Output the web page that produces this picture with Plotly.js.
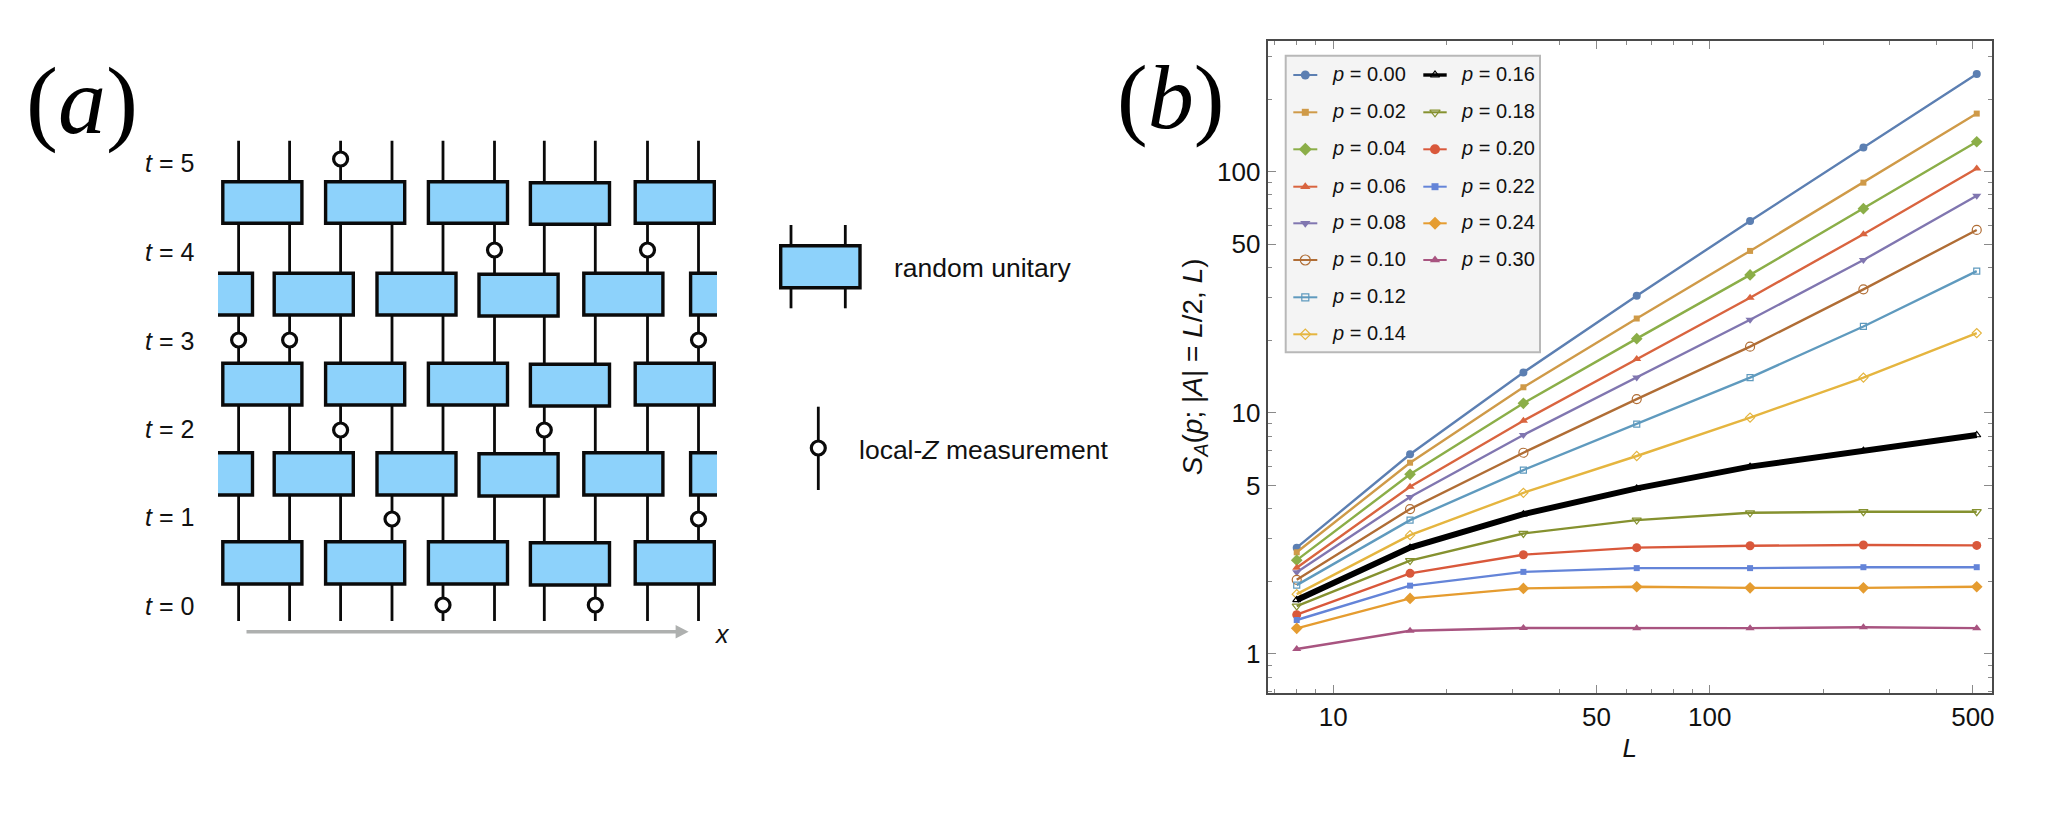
<!DOCTYPE html>
<html>
<head>
<meta charset="utf-8">
<script src="https://cdn.plot.ly/plotly-3.0.1.min.js"></script>
<style>html,body{margin:0;padding:0;background:#fff}#chart{width:2068px;height:814px}</style>
</head>
<body>
<div id="chart"></div>
<script>
// ---------- panel (b) data ----------
const systemSizes = [8, 16, 32, 64, 128, 256, 512];
const pLabels = ['0.00','0.02','0.04','0.06','0.08','0.10','0.12','0.14','0.16','0.18','0.20','0.22','0.24','0.30'];
const S_p000 = [2.76, 6.73, 14.7, 30.6, 62.4, 126, 254];
const S_p002 = [2.64, 6.21, 12.76, 24.6, 46.9, 90, 174];
const S_p004 = [2.45, 5.56, 10.95, 20.3, 37.3, 70.2, 133];
const S_p006 = [2.28, 4.94, 9.27, 16.7, 30, 55, 103];
const S_p008 = [2.18, 4.48, 8.09, 14, 24.3, 43, 79.4];
const S_p010 = [2.03, 3.99, 6.83, 11.4, 18.8, 32.5, 57.3];
const S_p012 = [1.93, 3.59, 5.79, 8.98, 14, 22.8, 38.7];
const S_p014 = [1.77, 3.11, 4.66, 6.62, 9.55, 14, 21.4];
const S_p016 = [1.675, 2.76, 3.8, 4.86, 5.98, 6.97, 8.09];
const S_p018 = [1.58, 2.44, 3.16, 3.59, 3.85, 3.89, 3.89];
const S_p020 = [1.455, 2.16, 2.58, 2.76, 2.81, 2.83, 2.82];
const S_p022 = [1.383, 1.92, 2.19, 2.27, 2.27, 2.29, 2.29];
const S_p024 = [1.278, 1.70, 1.87, 1.90, 1.88, 1.88, 1.90];
const S_p030 = [1.049, 1.249, 1.282, 1.28, 1.28, 1.29, 1.28];
const seriesValues = [S_p000,S_p002,S_p004,S_p006,S_p008,S_p010,S_p012,S_p014,S_p016,S_p018,S_p020,S_p022,S_p024,S_p030];
const seriesColors = ['#5C7FB2','#CF9A48','#8BAE48','#D9643F','#8076B0','#B06D35','#5F9ABE','#E5B53F','#000000','#85912F','#D9583B','#6484D8','#E59C30','#A85480'];
const seriesSymbols = ['circle','square','diamond','triangle-up','triangle-down','circle-open','square-open','diamond-open','triangle-up-open','triangle-down-open','circle','square','diamond','triangle-up'];
const markerSizes = [8,6,9,8,8,9,6,7,7,8,9,6,9,8];
const lineWidths = [2.4,2.4,2.4,2.4,2.4,2.4,2.4,2.4,6,2.4,2.4,2.4,2.4,2.4];
const xTickValues = [10,50,100,500];
const yTickValues = [1,5,10,50,100];
const xMinorTicks = [7,8,9,20,30,40,60,70,80,90,200,300,400];
const yMinorTicks = [0.7,0.8,0.9,2,3,4,6,7,8,9,20,30,40,60,70,80,90,200,300];

// ---------- legend layout of panel (b), in page pixels ----------
const legendBox = [1285.7,55.7,1540,352.3];
const legendRowsY = [75,112.3,149.3,186.7,223.3,260,297.3,334.3];
const legendColumnsX = [[1293.3,1317.3,1329.5],[1423.3,1446.7,1458.5]];

// ---------- panel (a) schematic, in page pixels ----------
const wireX = [238.6,289.6,340.6,392,443,494.5,544.3,595.3,647.5,698.5];
const wireSpanY = [140.7,621];
const fullRowsY = [[181.7,223.3],[363.3,405],[541.7,584]];
const fullRowColumns = [[222.8,301.9],[325.6,404.7],[428.4,507.5],[530.4,609.5],[635.2,714.3]];
const offsetRowsY = [[273.3,315],[452.7,495]];
const offsetRowColumns = [[274.2,353.3],[377,456],[479,558.1],[583.8,662.9]];
const edgeGateLeft = [218,252.5];
const edgeGateRight = [690.6,717];
const nudgedColumnShift = 1;
const measureX = [340.6,494.5,647.5,238.6,289.6,698.5,340.6,544.3,392,698.5,443,595.3];
const measureY = [159,250,250,340,340,340,430,430,519,519,605,605];
const timeLabels = ['t = 5','t = 4','t = 3','t = 2','t = 1','t = 0'];
const timeLabelY = [163,251.7,340.7,429,517,605.7];
const keyGate = {x:[780.7,860], y:[245.7,287.7], wires:[791,845.3], wireY:[225,308.3]};
const keyMeasure = {x:818.3, y:[406.7,490], mark:448};

const gateFill = '#8DD2FB', ink = '#0a0a0a', sans = '"Liberation Sans", Arial, sans-serif';
const shapes = [];
const P = {xref:'x2', yref:'y2', layer:'below'};
const wire = (x, y0, y1, w) => shapes.push({...P, type:'line', x0:x, x1:x, y0:y0, y1:y1, line:{color:ink, width:w||2.8}});
const gate = (x0, x1, y0, y1) => shapes.push({...P, type:'rect', x0, x1, y0, y1, fillcolor:gateFill, line:{color:ink, width:3.4}});

wireX.forEach(x => wire(x, wireSpanY[0], wireSpanY[1]));
fullRowsY.forEach(r => fullRowColumns.forEach((c,i) => {
  const d = i === 3 ? nudgedColumnShift : 0;
  gate(c[0], c[1], r[0]+d, r[1]+d);
}));
offsetRowsY.forEach(r => {
  offsetRowColumns.forEach((c,i) => {
    const d = i === 2 ? nudgedColumnShift : 0;
    gate(c[0], c[1], r[0]+d, r[1]+d);
  });
  shapes.push({...P, type:'path', path:`M${edgeGateLeft[0]},${r[0]} L${edgeGateLeft[1]},${r[0]} L${edgeGateLeft[1]},${r[1]} L${edgeGateLeft[0]},${r[1]}`, fillcolor:gateFill, line:{color:ink,width:3.4}});
  shapes.push({...P, type:'path', path:`M${edgeGateRight[1]},${r[0]} L${edgeGateRight[0]},${r[0]} L${edgeGateRight[0]},${r[1]} L${edgeGateRight[1]},${r[1]}`, fillcolor:gateFill, line:{color:ink,width:3.4}});
});
// key
keyGate.wires.forEach(x => wire(x, keyGate.wireY[0], keyGate.wireY[1]));
gate(keyGate.x[0], keyGate.x[1], keyGate.y[0], keyGate.y[1]);
wire(keyMeasure.x, keyMeasure.y[0], keyMeasure.y[1]);
// x arrow
shapes.push({...P, type:'line', x0:246.5, x1:678, y0:631.7, y1:631.7, line:{color:'#AEB0AF', width:3.6}});
shapes.push({...P, type:'path', path:'M675.6,625 L688.6,631.7 L675.6,638.4 Z', fillcolor:'#AEB0AF', line:{color:'#AEB0AF', width:0}});
// legend box
shapes.push({...P, type:'rect', x0:legendBox[0], y0:legendBox[1], x1:legendBox[2], y1:legendBox[3], fillcolor:'#F4F4F4', line:{color:'#B8B8B8', width:2}});

const annotations = [];
const txt = (x, y, text, size, anchor, extra) => annotations.push(Object.assign({xref:'x2', yref:'y2', x, y, text, showarrow:false, xanchor:anchor||'left', yanchor:'middle', font:{family:sans, size:size, color:'#111'}}, extra||{}));
timeLabels.forEach((t,i) => txt(143, timeLabelY[i], '<i>t</i>' + t.slice(1), 25));
txt(892, 268, 'random unitary', 26.5);
txt(857, 450, 'local-<i>Z</i> measurement', 26.5);
txt(713, 634, '<i>x</i>', 25);
const serif = '"Liberation Serif", "Times New Roman", serif';
txt(82, 100, '(<i>a</i>)', 96, 'center', {font:{family:serif, size:96, color:'#000'}});
txt(1170, 97, '(<i>b</i>)', 92, 'center', {font:{family:serif, size:92, color:'#000'}});

const traces = [];
seriesValues.forEach((vals,i) => {
  traces.push({
    type:'scatter', mode:'lines+markers', x:systemSizes, y:vals, name:'p = '+pLabels[i],
    line:{color:seriesColors[i], width:lineWidths[i]},
    marker:{symbol:seriesSymbols[i], size:markerSizes[i], color:seriesColors[i], line:{color:seriesColors[i], width:seriesSymbols[i].endsWith('open')?1.2:0}},
    showlegend:false, cliponaxis:false
  });
});
// legend samples drawn on the page-pixel axes
seriesValues.forEach((vals,i) => {
  const col = i < 8 ? 0 : 1, row = i < 8 ? i : i-8;
  const c = legendColumnsX[col], y = legendRowsY[row];
  traces.push({
    type:'scatter', mode:'lines', xaxis:'x2', yaxis:'y2', x:[c[0],c[1]], y:[y,y],
    line:{color:seriesColors[i], width:i===8?3.4:2}, showlegend:false, hoverinfo:'skip'
  });
  traces.push({
    type:'scatter', mode:'markers', xaxis:'x2', yaxis:'y2', x:[(c[0]+c[1])/2], y:[y],
    marker:{symbol:seriesSymbols[i], size:markerSizes[i]+1, color:seriesColors[i], line:{color:seriesColors[i], width:seriesSymbols[i].endsWith('open')?1.2:0}},
    showlegend:false, hoverinfo:'skip'
  });
  txt(c[2], y-1, '<i>p</i> = '+pLabels[i], 20);
});
// measurement circles
traces.push({type:'scatter', mode:'markers', xaxis:'x2', yaxis:'y2', x:measureX, y:measureY,
  marker:{symbol:'circle', size:14, color:'#fff', line:{color:ink, width:3.2}}, showlegend:false, hoverinfo:'skip'});
traces.push({type:'scatter', mode:'markers', xaxis:'x2', yaxis:'y2', x:[keyMeasure.x], y:[keyMeasure.mark],
  marker:{symbol:'circle', size:14, color:'#fff', line:{color:ink, width:3.2}}, showlegend:false, hoverinfo:'skip'});

const axisLine = '#4a4a4a';
const logAxis = (vals, minors) => ({
  type:'log', tickmode:'array', tickvals:vals, ticktext:vals.map(String),
  ticks:'inside', ticklen:8, tickwidth:1, tickcolor:'#8a8a8a',
  showline:true, linecolor:axisLine, linewidth:2, mirror:'ticks', showgrid:false, zeroline:false,
  tickfont:{family:sans, size:26, color:'#111'},
  minor:{tickmode:'array', tickvals:minors, ticks:'inside', ticklen:4, tickwidth:1, tickcolor:'#8a8a8a', showgrid:false}
});

const layout = {
  width:2068, height:814, margin:{l:0,r:0,t:0,b:0}, showlegend:false,
  paper_bgcolor:'#fff', plot_bgcolor:'rgba(0,0,0,0)',
  xaxis: Object.assign(logAxis(xTickValues, xMinorTicks), {
    domain:[1267.7/2068, 1991.7/2068], range:[0.826, 2.749], anchor:'y',
    title:{text:'<i>L</i>', font:{family:sans, size:26, color:'#111'}, standoff:8}
  }),
  yaxis: Object.assign(logAxis(yTickValues, yMinorTicks), {
    domain:[1-692.7/814, 1-41/814], range:[-0.1605, 2.5415], anchor:'x',
    title:{text:'<i>S<sub>A</sub></i>(<i>p</i>; |<i>A</i>| = <i>L</i>/2, <i>L</i>)', font:{family:sans, size:28, color:'#111'}, standoff:6}
  }),
  xaxis2:{domain:[0,1], range:[0,2068], anchor:'y2', visible:false, fixedrange:true},
  yaxis2:{domain:[0,1], range:[814,0], anchor:'x2', visible:false, fixedrange:true},
  shapes, annotations
};
Plotly.newPlot('chart', traces, layout, {displayModeBar:false, staticPlot:true});
</script>
</body>
</html>
